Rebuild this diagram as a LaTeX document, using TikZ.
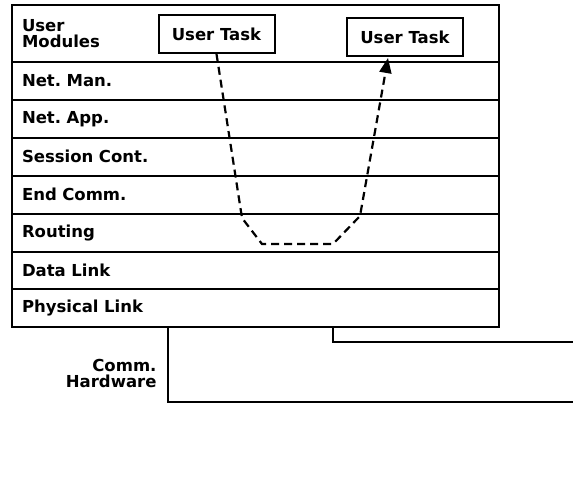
\documentclass[tikz,border=0pt]{standalone}
\usepackage{fontspec}
\setmainfont{DejaVu Sans}
\usetikzlibrary{arrows.meta,positioning}
\frenchspacing

\begin{document}
\begin{tikzpicture}[
  x=1pt, y=-1pt,
  font=\fontsize{16.5}{16}\selectfont\bfseries,
  layer/.style={
    rectangle,
    draw,
    line width=2pt,
    outer sep=0pt,
    text width=467pt,
    inner xsep=10pt,
    inner ysep=0pt,
    align=left,
    minimum height=37.9pt
  },
  task/.style={
    rectangle,
    draw,
    line width=2pt,
    fill=white,
    minimum width=116pt,
    minimum height=38pt,
    inner sep=0pt
  },
  flow/.style={line width=2.2pt, dash pattern=on 8pt off 5pt, -{Triangle[length=15pt,width=12pt]}},
  wire/.style={line width=2pt}
]
\useasboundingbox (0,0) rectangle (573,487);

\node[layer, minimum height=57pt, anchor=north west] (usermod) at (12,5) {User\\Modules};
\node[layer, below=0pt of usermod] (netman) {Net. Man.};
\node[layer, below=0pt of netman] (netapp) {Net. App.};
\node[layer, below=0pt of netapp] (session) {Session Cont.};
\node[layer, below=0pt of session] (endcomm) {End Comm.};
\node[layer, below=0pt of endcomm] (routing) {Routing};
\node[layer, below=0pt of routing] (datalink) {Data Link};
\node[layer, below=0pt of datalink] (physical) {Physical Link};

\node[task] (taskA) at (216.5,34) {User Task};
\node[task] (taskB) at (405,37.5) {User Task};

\coordinate (downA) at (242,218);
\coordinate (downB) at (262,244);
\coordinate (upA) at (333,244);
\coordinate (upB) at (360,216);
\coordinate (upC) at (388,58);
\draw[flow] (taskA.south) -- (downA) -- (downB) -- (upA) -- (upB) -- (upC);

\node[align=right, anchor=east] (hw) at (160,373) {Comm.\\Hardware};

\coordinate (hwA) at (168,402);
\coordinate (hwB) at (573,402);
\coordinate (lnA) at (333,342);
\coordinate (lnB) at (573,342);
\draw[wire] (physical.south -| hwA) -- (hwA) -- (hwB);
\draw[wire] (physical.south -| lnA) -- (lnA) -- (lnB);
\end{tikzpicture}
\end{document}
